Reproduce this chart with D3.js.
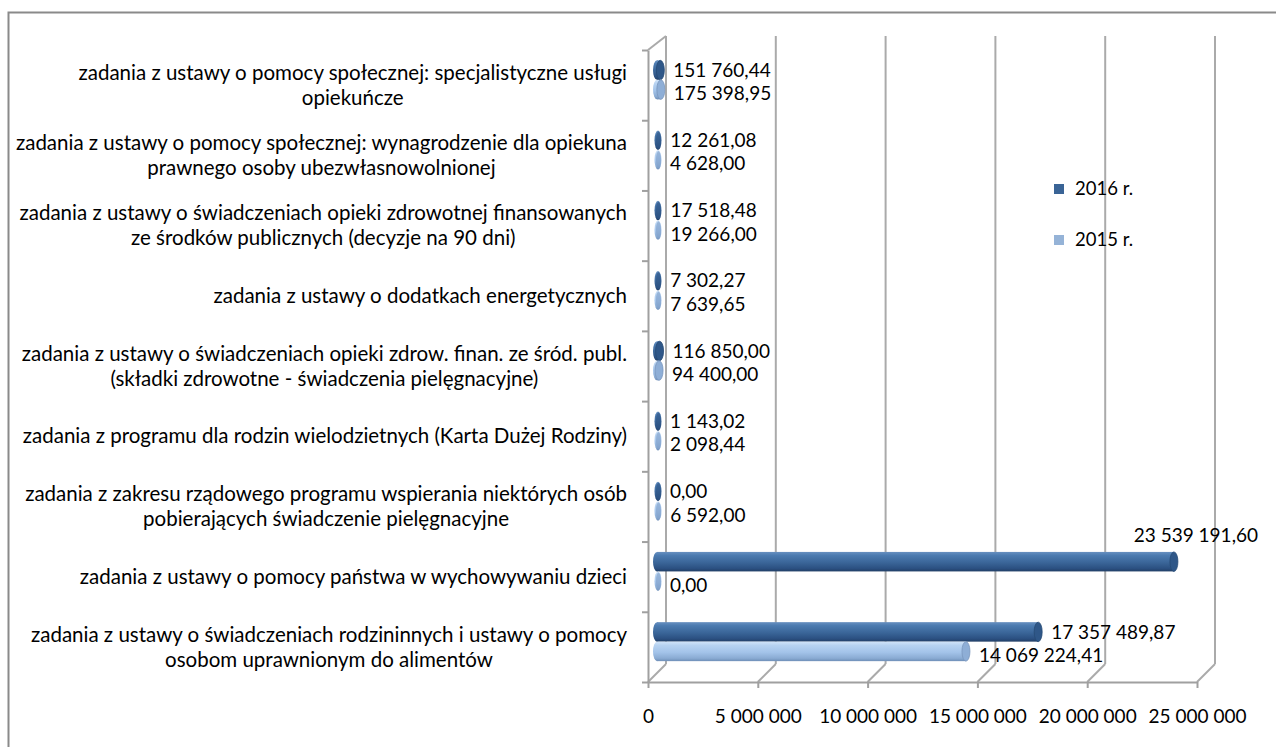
<!DOCTYPE html>
<html><head><meta charset="utf-8">
<script src="https://cdn.jsdelivr.net/npm/d3@7"></script>
<style>
html,body{margin:0;padding:0;background:#fff;overflow:hidden;}
svg{display:block;font-family:Lato,"Liberation Sans",sans-serif;}
</style></head>
<body><svg id="c" width="1276" height="747"></svg>
<script>
// ---------- data ----------
const categories = [
  ["zadania z ustawy o pomocy społecznej: specjalistyczne usługi","opiekuńcze"],
  ["zadania z ustawy o pomocy społecznej: wynagrodzenie dla opiekuna","prawnego osoby ubezwłasnowolnionej"],
  ["zadania z ustawy o świadczeniach opieki zdrowotnej finansowanych","ze środków publicznych (decyzje na 90 dni)"],
  ["zadania z ustawy o dodatkach energetycznych "],
  ["zadania z ustawy o świadczeniach opieki zdrow. finan. ze śród. publ.","(składki zdrowotne - świadczenia pielęgnacyjne)"],
  ["zadania z programu dla rodzin wielodzietnych (Karta Dużej Rodziny)"],
  ["zadania z zakresu rządowego programu wspierania niektórych osób","pobierających świadczenie pielęgnacyjne"],
  ["zadania z ustawy o pomocy państwa w wychowywaniu dzieci"],
  ["zadania z ustawy o świadczeniach rodzininnych i ustawy o pomocy","osobom uprawnionym do alimentów"]
];
const values2016 = [151760.44, 12261.08, 17518.48, 7302.27, 116850.00, 1143.02, 0.00, 23539191.60, 17357489.87];
const values2015 = [175398.95, 4628.00, 19266.00, 7639.65, 94400.00, 2098.44, 6592.00, 0.00, 14069224.41];
const seriesNames = ["2016 r.", "2015 r."];
const tickValues = [0, 5000000, 10000000, 15000000, 20000000, 25000000];

// ---------- setup ----------
const svg = d3.select("#c");
const FS_CAT = 20.5, FS_NUM = 19, FS_LEG = 18.5;
const loc = d3.formatLocale({decimal: ",", thousands: " ", grouping: [3], currency: ["", ""]});
const fmtVal = loc.format(",.2f");
const fmtTick = loc.format(",d");

const frontLeft = 648, frontRight = 1197, baseY = 682, topY = 50;
const DX = 18, DY = -18;
const xFront = d3.scaleLinear().domain([0, 25000000]).range([frontLeft, frontRight]);
const xBar = d3.scaleLinear().domain([0, 25000000]).range([frontLeft + 9, frontRight + 9]);
const yBand = d3.scaleBand().domain(d3.range(categories.length)).range([topY, baseY]).padding(0);
const yLin = d3.scaleLinear().domain([0, categories.length]).range([topY, baseY]);

// outer frame
svg.append("rect").attr("x", 8.5).attr("y", 12.5).attr("width", 1300).attr("height", 800)
  .attr("fill", "none").attr("stroke", "#8a8a8a").attr("stroke-width", 2);

// defs gradients
const defs = svg.append("defs");
function grad(id, stops) {
  const g = defs.append("linearGradient").attr("id", id).attr("x1", 0).attr("y1", 0).attr("x2", 0).attr("y2", 1);
  stops.forEach(s => g.append("stop").attr("offset", s[0]).attr("stop-color", s[1]));
}
grad("g2016", [[0, "#6890c0"], [0.18, "#4c7bb0"], [0.55, "#3a6598"], [0.85, "#2b5081"], [1, "#223f66"]]);
grad("g2015", [[0, "#d0e3f8"], [0.2, "#b6d2f1"], [0.55, "#a3c3e9"], [0.85, "#8aabd3"], [1, "#6f8fb8"]]);
const capFill = ["#2f5788", "#8eaed6"];
const legendFill = ["#3a6496", "#95b3d7"];

// ---------- back walls / grid ----------
const grid = svg.append("g").attr("stroke", "#aaaaaa").attr("stroke-width", 2).attr("fill", "none");
tickValues.forEach(t => {
  const fx = xFront(t);
  grid.append("line").attr("x1", fx + DX).attr("x2", fx + DX).attr("y1", 36).attr("y2", baseY + DY);
  grid.append("line").attr("x1", fx).attr("y1", baseY).attr("x2", fx + DX).attr("y2", baseY + DY);
});
grid.append("line").attr("x1", frontLeft).attr("y1", topY).attr("x2", frontLeft + DX).attr("y2", 36);

// left axis (front)
const gl = svg.append("g").attr("transform", `translate(${frontLeft},0)`)
  .call(d3.axisLeft(yLin).tickValues(d3.range(categories.length + 1)).tickFormat("").tickSize(6).tickSizeOuter(0));
gl.selectAll("path,line").attr("stroke", "#a0a0a0").attr("stroke-width", 2);

// bottom axis (front)
const gb = svg.append("g").attr("transform", `translate(0,${baseY})`)
  .call(d3.axisBottom(xFront).tickValues(tickValues).tickFormat(fmtTick).tickSize(6).tickSizeOuter(0).tickPadding(22));
gb.selectAll("path,line").attr("stroke", "#a0a0a0").attr("stroke-width", 2);
gb.selectAll("text").attr("font-size", FS_NUM).attr("fill", "#000").attr("font-family", "Lato,'Liberation Sans',sans-serif");

// ---------- category labels ----------
const catG = svg.append("g").attr("font-size", FS_CAT).attr("fill", "#000");
categories.forEach((lines, i) => {
  const cy = yBand(i) + yBand.bandwidth() / 2;
  const lh = 25;
  const t = catG.append("text").attr("text-anchor", "middle");
  const tsp = lines.map((ln, k) => t.append("tspan").attr("x", 0)
    .attr("y", cy + (k - (lines.length - 1) / 2) * lh).attr("dy", "0.35em").text(ln));
  const w = d3.max(tsp, s => s.node().getComputedTextLength());
  tsp.forEach(s => s.attr("x", 627 - w / 2));
});

// ---------- bars ----------
const series = [values2016, values2015];
const offs = [-15, 4.5];
const labOffs = [0, 4];
const H = 19.5, RX = 4;
const barG = svg.append("g");
const labG = svg.append("g").attr("font-size", FS_NUM).attr("fill", "#000");
categories.forEach((c, i) => {
  const bc = yBand(i) + yBand.bandwidth() / 2;
  series.forEach((vals, s) => {
    const v = vals[i];
    const cy = bc + offs[s];
    const x0 = xBar(0), x1 = xBar(v);
    const g = barG.append("g");
    if (x1 - x0 > 1) {
      g.append("rect").attr("x", x0).attr("y", cy - H / 2).attr("width", x1 - x0).attr("height", H)
        .attr("fill", `url(#g${s === 0 ? 2016 : 2015})`);
      g.append("ellipse").attr("cx", x0).attr("cy", cy).attr("rx", RX).attr("ry", H / 2)
        .attr("fill", `url(#g${s === 0 ? 2016 : 2015})`);
      g.append("ellipse").attr("cx", x1).attr("cy", cy).attr("rx", RX).attr("ry", H / 2)
        .attr("fill", capFill[s]).attr("stroke", s === 0 ? "#264a75" : "#7895bd").attr("stroke-width", 0.8);
    } else {
      g.append("ellipse").attr("cx", x0 + 1).attr("cy", cy).attr("rx", RX - 0.5).attr("ry", H / 2)
        .attr("fill", `url(#g${s === 0 ? 2016 : 2015})`);
      g.append("ellipse").attr("cx", x0 + 1.5).attr("cy", cy).attr("rx", RX - 1.5).attr("ry", H / 2 - 1)
        .attr("fill", s === 0 ? "#2d5484" : "#7f9fc8").attr("opacity", 0.6);
    }
    const lt = labG.append("text").attr("x", x1 + 13).attr("y", cy + labOffs[s]).attr("dy", "0.35em").text(fmtVal(v));
    const w = lt.node().getComputedTextLength();
    if (x1 + 13 + w > 1262) {
      lt.attr("x", 1258).attr("text-anchor", "end").attr("y", cy - 26);
    }
  });
});

// ---------- legend ----------
const legY = [189, 240];
const leg = svg.append("g");
seriesNames.forEach((n, s) => {
  leg.append("rect").attr("x", 1054).attr("y", legY[s] - 5).attr("width", 10).attr("height", 10).attr("fill", legendFill[s]);
  leg.append("text").attr("x", 1075).attr("y", legY[s]).attr("dy", "0.35em").attr("font-size", FS_LEG).attr("fill", "#000").text(n);
});
</script></body></html>
